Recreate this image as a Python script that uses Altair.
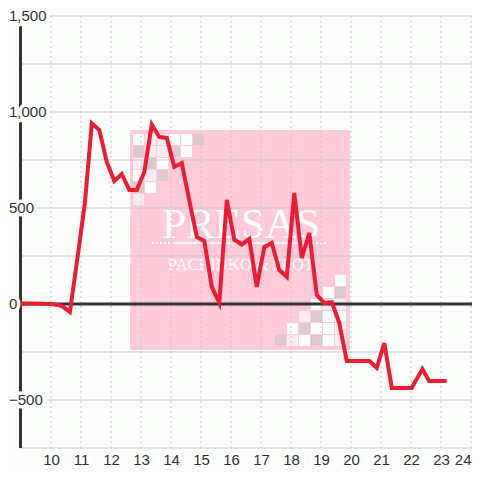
import altair as alt
import pandas as pd

# ---- data ----
hours = [8.97, 9.5, 10.0, 10.24, 10.41, 10.63, 10.86, 11.13, 11.36, 11.61, 11.86,
         12.11, 12.36, 12.61, 12.86, 13.11, 13.36, 13.61, 13.86, 14.11, 14.36, 14.61,
         14.86, 15.11, 15.36, 15.61, 15.86, 16.11, 16.36, 16.61, 16.86, 17.11, 17.36,
         17.61, 17.86, 18.11, 18.36, 18.61, 18.86, 19.11, 19.36, 19.61, 19.86, 20.11,
         20.36, 20.61, 20.86, 21.11, 21.36, 21.61, 22.02, 22.38, 22.6, 23.19]
values = [2, 2, 0, -5, -15, -42, 215, 526, 941, 906, 740, 641, 677, 594, 594, 688,
          935, 870, 865, 714, 734, 540, 349, 328, 89, 5, 542, 335, 310, 339, 89, 297,
          318, 177, 141, 578, 240, 370, 47, 5, 10, -99, -297, -297, -297, -297, -333,
          -203, -438, -438, -438, -339, -401, -401]
x_ticks = list(range(10, 25))
y_grid = [-750, -500, -250, 0, 250, 500, 750, 1000, 1250, 1500]
y_labels = [-500, 0, 500, 1000, 1500]

# ---- layout / style ----
BG = "#fcfefc"
W, H = 452, 432
X0, X1 = 8.9667, 8.9667 + W / 30.0
Y0, Y1 = -750, 1500
FONT = "Liberation Sans"
RED = "#ec1c33"
DARK = "#333333"
GRID = "#c8c8c8"

xscale = alt.Scale(domain=[X0, X1], nice=False, zero=False)
yscale = alt.Scale(domain=[Y0, Y1], nice=False, zero=False)
xaxis = alt.Axis(values=x_ticks, grid=False, domain=False, ticks=False,
                 labelFont=FONT, labelFontSize=15, labelColor=DARK,
                 labelPadding=4, labelFlush=5, labelOverlap=False, title=None)


def X(field):
    return alt.X(field, type="quantitative", scale=xscale, axis=xaxis)


def Y(field):
    return alt.Y(field, type="quantitative", scale=yscale, axis=None)


one = pd.DataFrame({"k": [0]})

# ---- watermark (decorative logo, pixel positions inside plot) ----
pink = alt.Chart(one).mark_rect(color="#ffcad9").encode(
    x=alt.value(110), x2=alt.value(330), y=alt.value(114), y2=alt.value(334))

CW, CL, CG = "#ffffff", "#fcebf2", "#dccacf"
tl_cols = [133, 145, 157, 169, 181, 193]
tl_rows = [134, 146, 158, 170, 182, 194]
tl_pat = [["W", "L", "L", "W", "W", "G"],
          ["G", "L", "L", "G", "W"],
          ["L", "G", "W"],
          ["W", "L", "G"],
          ["G", "W"],
          ["L"]]
br_cols = [275, 287, 299, 311, 323, 335]
br_rows = [275, 287, 299, 311, 323, 335]
br_pat = [[None, None, None, None, None, "W"],
          [None, None, None, None, "W", "G"],
          [None, None, None, "W", "L", "L"],
          [None, None, "L", "G", "W", "W"],
          [None, "W", "G", "W", "W", "L"],
          ["G", "L", "W", "G", "W", "L"]]
cmap = {"W": CW, "L": CL, "G": CG}
sq = []
for r, row in enumerate(tl_pat):
    for c, k in enumerate(row):
        sq.append((tl_cols[c], tl_rows[r], cmap[k]))
for r, row in enumerate(br_pat):
    for c, k in enumerate(row):
        if k:
            sq.append((br_cols[c], br_rows[r], cmap[k]))


def px2x(p):
    return X0 + (p - 20) / 30.0


def py2y(p):
    return Y1 - (p - 16) * (Y1 - Y0) / H


sqdf = pd.DataFrame({
    "x0": [px2x(a) for a, b, c in sq],
    "x1": [px2x(a + 11) for a, b, c in sq],
    "y0": [py2y(b) for a, b, c in sq],
    "y1": [py2y(b + 11) for a, b, c in sq],
    "c": [c for a, b, c in sq],
})
squares = alt.Chart(sqdf).mark_rect().encode(
    x=X("x0"), x2="x1", y=Y("y0"), y2="y1",
    color=alt.Color("c:N", scale=None, legend=None))

logo1 = alt.Chart(one).mark_text(text="PRESAS", font="Liberation Serif", fontSize=43,
                                 color="white", align="center", baseline="alphabetic").encode(
    x=alt.value(221), y=alt.value(222))
logo2 = alt.Chart(one).mark_text(text="PACHINKO & SLOT", font="Liberation Serif", fontSize=16.5,
                                 color="white", align="center", baseline="alphabetic").encode(
    x=alt.value(221), y=alt.value(254))
dots1 = alt.Chart(one).mark_rule(color="white", strokeWidth=2, strokeDash=[2, 2]).encode(
    x=alt.value(132), x2=alt.value(152), y=alt.value(227))
dots2 = alt.Chart(one).mark_rule(color="white", strokeWidth=2, strokeDash=[2, 2]).encode(
    x=alt.value(288), x2=alt.value(308), y=alt.value(227))
solid = alt.Chart(one).mark_rule(color="white", strokeWidth=1.5).encode(
    x=alt.value(153), x2=alt.value(287), y=alt.value(227))

# ---- grid ----
hgrid = alt.Chart(pd.DataFrame({"g": y_grid})).mark_rule(color=GRID, strokeWidth=1).encode(
    y=Y("g"))
vgrid = alt.Chart(pd.DataFrame({"g": x_ticks})).mark_rule(
    color=GRID, strokeWidth=1, strokeDash=[2, 3]).encode(x=X("g"))
zero = alt.Chart(pd.DataFrame({"z": [0]})).mark_rule(color=DARK, strokeWidth=3).encode(
    y=Y("z"))
yline = alt.Chart(one).mark_rule(color=DARK, strokeWidth=3).encode(
    x=alt.value(0.5), y=alt.value(0), y2=alt.value(H))

# ---- series ----
df = pd.DataFrame({"h": hours, "v": values})
line = alt.Chart(df).mark_line(color=RED, strokeWidth=4).encode(
    x=X("h"), y=Y("v"))

# ---- y labels with background halo ----
ldf = pd.DataFrame({"v": y_labels})
halo = alt.Chart(ldf).mark_text(align="left", baseline="middle", font=FONT, fontSize=15,
                                fill=BG, stroke=BG, strokeWidth=7, strokeJoin="round").encode(
    x=alt.value(-11), y=Y("v"), text=alt.Text("v:Q", format=","))
labels = alt.Chart(ldf).mark_text(align="left", baseline="middle", font=FONT, fontSize=15,
                                  color=DARK).encode(
    x=alt.value(-11), y=Y("v"), text=alt.Text("v:Q", format=","))

chart = alt.layer(
    pink, squares, logo1, logo2, dots1, dots2, solid,
    hgrid, vgrid, zero, yline, line, halo, labels
).properties(
    width=W, height=H,
    padding={"left": 12, "top": 8, "right": 0, "bottom": 24},
    autosize="none", background=BG,
).configure_view(stroke=None)

chart.save("out.html", embed_options={"renderer": "svg", "actions": False})
